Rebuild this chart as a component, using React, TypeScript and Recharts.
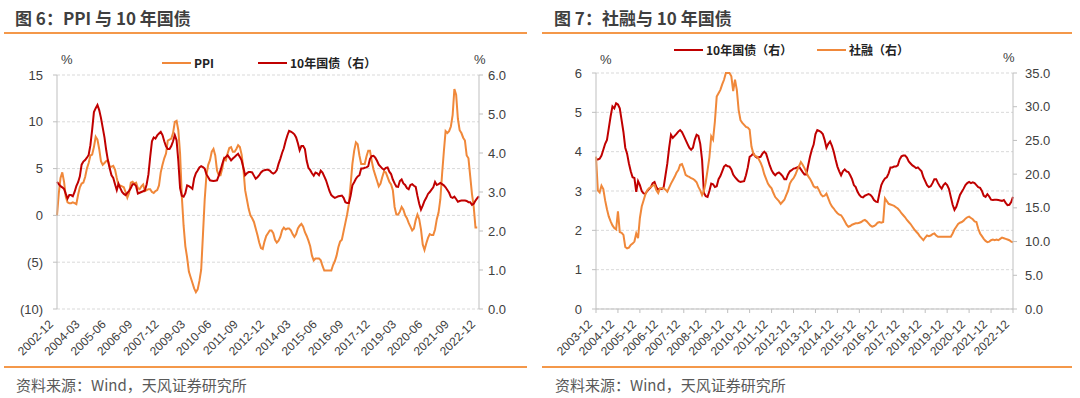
import React from 'react';
import { LineChart, Line, XAxis, YAxis, CartesianGrid } from 'recharts';

function monthSeq(startYear: number, startMonth: number, count: number): string[] {
  const out: string[] = [];
  for (let k = 0; k < count; k++) {
    const m = startMonth - 1 + k;
    const y = startYear + Math.floor(m / 12);
    const mm = (m % 12) + 1;
    out.push(`${y}-${mm < 10 ? '0' + mm : mm}`);
  }
  return out;
}

// ---------- 图 6：PPI 与 10 年国债 (monthly, 2002-12 .. 2022-12) ----------
const leftDates = monthSeq(2002, 12, 241);
const leftTickLabels = ['2002-12', '2004-03', '2005-06', '2006-09', '2007-12', '2009-03', '2010-06', '2011-09', '2012-12', '2014-03', '2015-06', '2016-09', '2017-12', '2019-03', '2020-06', '2021-09', '2022-12'];

const ppi: (number | null)[] = [
  0.0, 2.3, 4.0, 4.6, 3.6, 2.0, 1.4, 1.3, 1.3, 1.4, 1.3, 1.2,
  2.2, 3.0, 3.4, 3.5, 4.1, 5.0, 5.6, 6.4, 6.5, 7.3, 8.4, 8.1,
  7.1, 5.8, 5.4, 5.6, 5.8, 5.9, 5.2, 5.2, 5.3, 4.9, 4.0, 3.2,
  3.2, 3.1, 3.0, 2.5, 1.9, 2.4, 3.5, 3.6, 3.4, 3.5, 2.9, 2.8,
  3.1, 3.3, 2.6, 2.7, 2.8, 2.8, 2.5, 2.4, 2.6, 2.7, 3.2, 4.6,
  5.4, 6.1, 6.6, 8.0, 8.1, 8.2, 8.8, 10.0, 10.1, 9.1, 6.6, 2.0,
  -1.1, -3.3, -4.5, -6.0, -6.6, -7.2, -7.8, -8.2, -7.9, -7.0, -5.8, -2.1,
  1.7, 4.3, 5.4, 5.9, 6.8, 7.1, 6.4, 4.8, 4.3, 4.3, 5.0, 6.1,
  5.9, 6.6, 7.2, 7.3, 6.8, 6.8, 7.1, 7.5, 7.3, 6.5, 5.0, 2.7,
  1.7, 0.7, 0.0, -0.3, -0.7, -1.4, -2.1, -2.9, -3.5, -3.6, -2.8, -2.2,
  -1.9, -1.6, -1.6, -1.9, -2.6, -2.9, -2.7, -2.3, -1.6, -1.3, -1.5, -1.4,
  -1.4, -1.6, -2.0, -2.3, -2.0, -1.4, -1.1, -0.9, -1.2, -1.8, -2.2, -2.7,
  -3.3, -4.3, -4.8, -4.6, -4.6, -4.6, -4.8, -5.4, -5.9, -5.9, -5.9, -5.9,
  -5.9, -5.3, -4.9, -4.3, -3.4, -2.8, -2.6, -1.7, -0.8, 0.1, 1.2, 3.3,
  5.5, 6.9, 7.8, 7.6, 6.4, 5.5, 5.5, 5.5, 6.3, 6.9, 6.9, 5.8,
  4.9, 4.3, 3.7, 3.1, 3.4, 4.1, 4.7, 4.6, 4.1, 3.6, 3.3, 2.7,
  0.9, 0.1, 0.1, 0.4, 0.9, 0.6, 0.0, -0.3, -0.8, -1.2, -1.6, -1.4,
  -0.5, 0.1, -0.4, -1.5, -3.1, -3.7, -3.0, -2.4, -2.0, -2.1, -2.1, -1.5,
  -0.4, 0.3, 1.7, 4.4, 6.8, 9.0, 8.8, 9.0, 9.5, 10.7, 13.5, 12.9,
  10.3, 9.1, 8.8, 8.3, 8.0, 6.4, 6.1, 4.2, 2.3, 0.9, -1.3, -1.3,
  null,
];

const cgb10Left: number[] = [
  3.26, 3.2, 3.15, 3.12, 3.08, 2.95, 2.83, 2.92, 2.92, 2.89, 3.0, 3.15,
  3.25, 3.4, 3.7, 3.78, 3.82, 3.88, 3.95, 4.2, 4.6, 5.05, 5.15, 5.23,
  5.1, 4.9, 4.65, 4.4, 4.07, 3.8, 3.6, 3.43, 3.36, 3.2, 3.05, 3.21,
  3.1, 3.0, 2.95, 2.92, 2.98, 3.03, 3.1, 3.2, 3.2, 3.15, 2.96, 2.98,
  3.0, 3.02, 3.04, 3.2, 3.45, 3.9, 4.3, 4.4, 4.37, 4.45, 4.5, 4.54,
  4.46, 4.3, 4.17, 4.1, 4.1, 4.18, 4.3, 4.46, 4.33, 3.8, 3.1, 2.9,
  2.88, 2.97, 3.17, 3.15, 3.12, 3.08, 3.35, 3.48, 3.55, 3.63, 3.66, 3.64,
  3.6, 3.45, 3.38, 3.3, 3.29, 3.28, 3.29, 3.3, 3.42, 3.56, 3.72, 3.86,
  3.9, 3.94, 3.88, 3.81, 3.86, 3.9, 3.94, 3.98, 3.9, 3.81, 3.62, 3.43,
  3.48, 3.51, 3.51, 3.5, 3.42, 3.34, 3.38, 3.43, 3.5, 3.54, 3.56, 3.57,
  3.57, 3.55, 3.5, 3.47, 3.5, 3.56, 3.72, 3.85, 4.0, 4.12, 4.3, 4.45,
  4.57, 4.55, 4.52, 4.48, 4.4, 4.25, 4.07, 4.18, 4.18, 4.1, 3.8, 3.62,
  3.56, 3.48, 3.42, 3.5, 3.48, 3.43, 3.55, 3.5, 3.4, 3.3, 3.16, 3.02,
  2.92, 2.88, 2.85, 2.87, 2.89, 2.9, 2.91, 2.85, 2.74, 2.72, 2.72, 2.91,
  3.17, 3.25, 3.34, 3.4, 3.43, 3.6, 3.6, 3.62, 3.63, 3.66, 3.85, 3.92,
  3.93, 3.88, 3.8, 3.7, 3.65, 3.6, 3.57, 3.62, 3.63, 3.52, 3.46, 3.32,
  3.22, 3.14, 3.13, 3.28, 3.32, 3.22, 3.18, 3.1, 3.07, 3.18, 3.2, 3.16,
  3.13, 2.9, 2.7, 2.55, 2.65, 2.77, 2.85, 2.95, 3.0, 3.06, 3.12, 3.26,
  3.18, 3.2, 3.23, 3.2, 3.17, 3.12, 3.05, 2.98, 2.87, 2.85, 2.88, 2.82,
  2.75, 2.77, 2.78, 2.78, 2.78, 2.77, 2.74, 2.74, 2.67, 2.7, 2.78, 2.84,
  2.89,
];

// ---------- 图 7：社融与 10 年国债 (monthly, 2003-12 .. 2022-12) ----------
const rightDates = monthSeq(2003, 12, 229);
const rightTickLabels = ['2003-12', '2004-12', '2005-12', '2006-12', '2007-12', '2008-12', '2009-12', '2010-12', '2011-12', '2012-12', '2013-12', '2014-12', '2015-12', '2016-12', '2017-12', '2018-12', '2019-12', '2020-12', '2021-12', '2022-12'];

const cgb10Right: number[] = [
  3.8, 3.8, 3.82, 3.9, 4.05, 4.2, 4.3, 4.6, 4.9, 5.15, 5.1, 5.23,
  5.2, 5.1, 4.8, 4.5, 4.1, 3.95, 3.7, 3.5, 3.35, 3.33, 2.98, 3.25,
  3.15, 3.0, 2.94, 2.93, 3.0, 3.05, 3.1, 3.2, 3.23, 3.1, 3.03, 3.05,
  3.05, 3.1, 3.4, 3.7, 4.1, 4.43, 4.35, 4.4, 4.45, 4.51, 4.55, 4.5,
  4.4, 4.3, 4.2, 4.1, 4.05, 4.1, 4.3, 4.43, 4.4, 4.2, 3.79, 2.95,
  2.87, 2.85, 3.0, 3.19, 3.17, 3.1, 3.12, 3.3, 3.38, 3.5, 3.62, 3.66,
  3.63, 3.62, 3.55, 3.42, 3.35, 3.3, 3.25, 3.23, 3.24, 3.25, 3.4, 3.6,
  3.87, 3.9, 3.96, 3.88, 3.85, 3.86, 3.87, 3.95, 4.0, 3.95, 3.8, 3.65,
  3.53, 3.45, 3.4, 3.45, 3.47, 3.43, 3.38, 3.3, 3.3, 3.42, 3.5, 3.53,
  3.57, 3.58, 3.6, 3.62, 3.55, 3.48, 3.42, 3.42, 3.65, 3.87, 4.05, 4.18,
  4.45, 4.55, 4.53, 4.5, 4.45, 4.3, 4.1, 4.2, 4.26, 4.15, 4.0, 3.8,
  3.62, 3.5, 3.4, 3.5, 3.55, 3.5, 3.48, 3.4, 3.3, 3.15, 3.1, 2.98,
  2.9, 2.85, 2.84, 2.88, 2.9, 2.92, 2.9, 2.85, 2.77, 2.73, 2.72, 2.95,
  3.15, 3.25, 3.32, 3.35, 3.45, 3.6, 3.6, 3.62, 3.62, 3.65, 3.8, 3.88,
  3.9, 3.9, 3.85, 3.75, 3.7, 3.65, 3.62, 3.58, 3.6, 3.55, 3.5, 3.35,
  3.25, 3.15, 3.1, 3.12, 3.2, 3.3, 3.3, 3.2, 3.12, 3.06, 3.15, 3.2,
  3.15, 3.05, 2.85, 2.65, 2.52, 2.6, 2.75, 2.9, 2.98, 3.06, 3.15, 3.2,
  3.23, 3.2, 3.22, 3.2, 3.15, 3.1, 3.08, 3.0, 2.88, 2.85, 2.92, 2.86,
  2.78, 2.77, 2.78, 2.78, 2.77, 2.76, 2.75, 2.77, 2.7, 2.64, 2.65, 2.72,
  2.85,
];

const tsf: number[] = [
  22.6, 17.6, 17.3, 18.3, 17.8, 16.1, 14.8, 13.7, 13.0, 12.4, 12.0, 11.8,
  14.5, 11.4, 11.3, 11.0, 9.2, 9.0, 9.1, 9.5, 9.7, 10.0, 11.2, 10.5,
  13.5, 15.2, 16.1, 17.0, 17.6, 17.9, 18.1, 18.3, 18.4, 17.6, 17.2, 17.9,
  17.9, 17.9, 17.7, 17.4, 18.0, 18.6, 19.1, 19.6, 20.2, 20.6, 21.4, 21.5,
  20.8, 19.9, 19.7, 19.6, 19.4, 19.3, 19.1, 18.8, 18.1, 17.6, 16.9, 17.5,
  18.8, 20.6, 22.5, 25.6, 25.1, 27.8, 31.5, 32.0, 32.5, 33.3, 34.0, 35.0,
  35.0, 35.0, 34.5, 32.3, 34.0, 32.5, 29.5, 28.0, 27.6, 27.3, 27.0, 26.9,
  26.6, 24.1, 23.1, 22.7, 22.6, 22.2, 21.7, 21.0, 20.0, 19.3, 18.6, 18.2,
  17.9, 17.2, 16.6, 16.3, 16.0, 15.6, 15.9, 16.2, 16.9, 17.5, 18.6, 19.1,
  19.4, 19.9, 20.6, 21.2, 21.8, 21.4, 20.9, 20.3, 19.7, 19.3, 18.8, 18.2,
  18.0, 18.1, 17.6, 17.0, 16.7, 16.8, 17.1, 16.4, 15.7, 15.2, 14.9, 14.5,
  14.2, 14.0, 13.9, 13.5, 13.0, 12.5, 12.2, 12.3, 12.5, 12.6, 12.7, 12.7,
  12.8, 12.9, 13.1, 13.2, 13.0, 12.7, 12.4, 12.2, 12.3, 12.5, 12.8, 12.9,
  12.8, 12.9, 16.4, 16.0, 15.6, 15.5, 15.4, 15.3, 15.1, 14.9, 14.6, 14.2,
  13.9, 13.6, 13.2, 12.9, 12.6, 12.2, 11.8, 11.5, 11.2, 10.8, 10.5, 10.2,
  10.6, 10.9, 10.8, 10.9, 11.1, 11.2, 10.9, 10.7, 10.7, 10.7, 10.7, 10.7,
  10.7, 10.7, 10.7, 11.2, 11.8, 12.2, 12.6, 12.8, 12.9, 13.1, 13.4, 13.6,
  13.7, 13.5, 13.3, 13.0, 12.9, 11.9, 11.2, 10.8, 10.4, 10.1, 9.9, 10.0,
  10.2, 10.3, 10.2, 10.3, 10.2, 10.4, 10.6, 10.5, 10.4, 10.3, 10.2, 10.0,
  9.9,
];

const leftYTicks = [-10, -5, 0, 5, 10, 15];
const leftY2Ticks = [0, 1, 2, 3, 4, 5, 6];
const rightYTicks = [0, 1, 2, 3, 4, 5, 6];
const rightY2Ticks = [0, 5, 10, 15, 20, 25, 30, 35];

const leftData = leftDates.map((d, i) => ({ i, date: d, ppi: ppi[i], cgb: cgb10Left[i] }));
const rightData = rightDates.map((d, i) => ({ i, date: d, cgb: cgb10Right[i], tsf: tsf[i] }));
const leftTickIdx = leftTickLabels.map((l) => leftDates.indexOf(l));
const rightTickIdx = rightTickLabels.map((l) => rightDates.indexOf(l));

const ORANGE = '#F0883A';
const RED = '#C00000';
const AXIS = '#BFBFBF';
const TXT = '#404040';
const NUM_FONT = "'Liberation Sans', Arial, 'Noto Sans CJK SC', sans-serif";
const CJK_FONT = "'Noto Sans CJK SC', 'Liberation Sans', sans-serif";

const makeRotTick = (dates: string[]) => (props: any) => {
  const { x, y, payload } = props;
  const ax = x - 3;
  const ay = y + 10;
  return (
    <text x={ax} y={ay} transform={`rotate(-45, ${ax}, ${ay})`} textAnchor="end" fontSize={12} fill={TXT} fontFamily={NUM_FONT}>
      {dates[payload.value]}
    </text>
  );
};

const LeftTick = makeRotTick(leftDates);
const RightTick = makeRotTick(rightDates);

const fmtParen = (v: number) => (v < 0 ? `(${-v})` : `${v}`);
const fmt1 = (v: number) => v.toFixed(1);

const abs = (left: number, top: number, extra: React.CSSProperties = {}): React.CSSProperties => ({
  position: 'absolute', left, top, whiteSpace: 'nowrap', ...extra,
});

const Swatch = ({ color }: { color: string }) => (
  <span style={{ display: 'inline-block', width: 29, height: 2.5, background: color, verticalAlign: 'middle', marginRight: 3 }} />
);

const LegendItem = ({ left, top, color, label }: { left: number; top: number; color: string; label: string }) => (
  <div style={abs(left, top, { fontFamily: CJK_FONT, fontSize: 12, fontWeight: 700, color: '#222', lineHeight: '14px', display: 'flex', alignItems: 'center' })}>
    <Swatch color={color} />
    <span>{label}</span>
  </div>
);

const tickStyle = { fontSize: 13, fill: TXT, fontFamily: NUM_FONT };

export default function App() {
  return (
    <div style={{ position: 'absolute', left: 0, top: 0, width: 1080, height: 398, background: '#fff', overflow: 'hidden' }}>
      {/* titles */}
      <div style={abs(15, 7, { fontFamily: CJK_FONT, fontSize: 17, fontWeight: 700, color: '#3F3F3F', lineHeight: '22px' })}>图 6：PPI 与 10 年国债</div>
      <div style={abs(554, 7, { fontFamily: CJK_FONT, fontSize: 17, fontWeight: 700, color: '#3F3F3F', lineHeight: '22px' })}>图 7：社融与 10 年国债</div>
      <div style={abs(4, 32, { width: 523, height: 2, background: '#F4984A' })} />
      <div style={abs(542, 32, { width: 530, height: 2, background: '#F4984A' })} />
      <div style={abs(4, 366, { width: 523, height: 2, background: '#F4984A' })} />
      <div style={abs(542, 366, { width: 530, height: 2, background: '#F4984A' })} />
      <div style={abs(16, 375, { fontFamily: CJK_FONT, fontSize: 15, color: '#595959', lineHeight: '20px' })}>资料来源：Wind，天风证券研究所</div>
      <div style={abs(555, 375, { fontFamily: CJK_FONT, fontSize: 15, color: '#595959', lineHeight: '20px' })}>资料来源：Wind，天风证券研究所</div>

      {/* left chart */}
      <div style={abs(0, 0)}>
        <LineChart width={540} height={398} data={leftData} margin={{ top: 75, right: 0, bottom: 49, left: 0 }}>
          <CartesianGrid yAxisId="l" vertical={false} stroke="#D9D9D9" strokeDasharray="3 2" />
          <XAxis dataKey="i" type="number" domain={[0, 240]} ticks={leftTickIdx} interval={0} axisLine={false} tickLine={false} tickSize={4} tickMargin={2} height={40} tick={<LeftTick />} />
          <YAxis yAxisId="l" domain={[-10, 15]} ticks={leftYTicks} tickFormatter={fmtParen} width={57} axisLine={{ stroke: AXIS }} tickLine={{ stroke: AXIS }} tickSize={4} tickMargin={10} tick={tickStyle} interval={0} />
          <YAxis yAxisId="r" orientation="right" domain={[0, 6]} ticks={leftY2Ticks} tickFormatter={fmt1} width={61} axisLine={{ stroke: AXIS }} tickLine={{ stroke: AXIS }} tickSize={4} tickMargin={5} tick={tickStyle} interval={0} />
          <Line yAxisId="l" dataKey="ppi" stroke={ORANGE} strokeWidth={2} dot={false} isAnimationActive={false} connectNulls={false} />
          <Line yAxisId="r" dataKey="cgb" stroke={RED} strokeWidth={2} dot={false} isAnimationActive={false} />
        </LineChart>
      </div>

      {/* right chart */}
      <div style={abs(540, 0)}>
        <LineChart width={540} height={398} data={rightData} margin={{ top: 73, right: 0, bottom: 49, left: 0 }}>
          <CartesianGrid yAxisId="l" vertical={false} stroke="#D9D9D9" strokeDasharray="3 2" />
          <XAxis dataKey="i" type="number" domain={[0, 228]} ticks={rightTickIdx} interval={0} axisLine={{ stroke: AXIS }} tickLine={{ stroke: AXIS }} tickSize={4} tickMargin={2} height={40} tick={<RightTick />} />
          <YAxis yAxisId="l" domain={[0, 6]} ticks={rightYTicks} width={56} axisLine={{ stroke: AXIS }} tickLine={{ stroke: AXIS }} tickSize={4} tickMargin={10} tick={tickStyle} interval={0} />
          <YAxis yAxisId="r" orientation="right" domain={[0, 35]} ticks={rightY2Ticks} tickFormatter={fmt1} width={67} axisLine={{ stroke: AXIS }} tickLine={{ stroke: AXIS }} tickSize={4} tickMargin={8} tick={tickStyle} interval={0} />
          <Line yAxisId="l" dataKey="cgb" stroke={RED} strokeWidth={2} dot={false} isAnimationActive={false} />
          <Line yAxisId="r" dataKey="tsf" stroke={ORANGE} strokeWidth={2} dot={false} isAnimationActive={false} />
        </LineChart>
      </div>

      {/* legends */}
      <LegendItem left={162} top={56} color={ORANGE} label="PPI" />
      <LegendItem left={258} top={56} color={RED} label="10年国债（右）" />
      <LegendItem left={674} top={43} color={RED} label="10年国债（右）" />
      <LegendItem left={817} top={43} color={ORANGE} label="社融（右）" />

      {/* unit labels */}
      <div style={abs(61, 52, { fontFamily: NUM_FONT, fontSize: 13, color: TXT, lineHeight: '16px' })}>%</div>
      <div style={abs(474, 52, { fontFamily: NUM_FONT, fontSize: 13, color: TXT, lineHeight: '16px' })}>%</div>
      <div style={abs(600, 52, { fontFamily: NUM_FONT, fontSize: 13, color: TXT, lineHeight: '16px' })}>%</div>
      <div style={abs(1003, 50, { fontFamily: NUM_FONT, fontSize: 13, color: TXT, lineHeight: '16px' })}>%</div>
    </div>
  );
}
